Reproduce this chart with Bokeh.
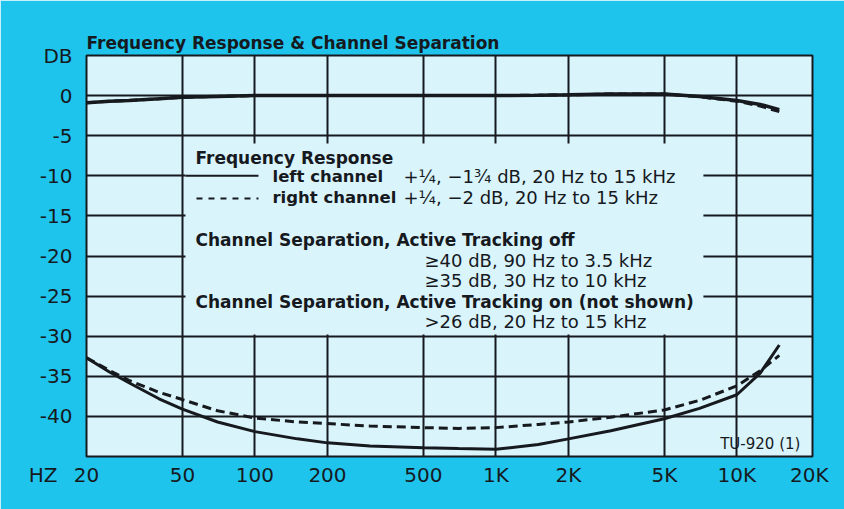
import numpy as np
from bokeh.plotting import figure
from bokeh.models import FixedTicker, BoxAnnotation, Label, Range1d
from bokeh.embed import file_html
from bokeh.resources import INLINE

# ---------------- data ----------------
freq = [20, 25, 30, 40, 50, 70, 100, 150, 200, 300, 500, 700, 1000,
        1500, 2000, 3000, 5000, 7000, 10000, 12500, 15000]
fr_left = [-0.9, -0.7, -0.6, -0.4, -0.2, -0.1, 0.0, 0.0, 0.0, 0.0, 0.0, 0.0, 0.0,
           0.05, 0.1, 0.2, 0.2, -0.1, -0.6, -1.1, -1.75]
fr_right = [-0.9, -0.7, -0.6, -0.4, -0.2, -0.1, 0.0, 0.0, 0.0, 0.0, 0.0, 0.0, 0.0,
            0.05, 0.1, 0.2, 0.2, -0.15, -0.7, -1.3, -2.0]
sep_left = [-32.7, -34.5, -35.8, -37.8, -39.1, -40.7, -41.9, -42.8, -43.3, -43.7, -43.9,
            -44.0, -44.1, -43.5, -42.8, -41.8, -40.3, -39.0, -37.3, -34.6, -31.1]
sep_right = [-32.7, -34.3, -35.5, -37.0, -37.9, -39.3, -40.2, -40.7, -40.9, -41.2, -41.4,
             -41.5, -41.4, -41.0, -40.7, -40.1, -39.2, -38.0, -36.2, -34.3, -32.4]

x_ticks = [20, 50, 100, 200, 500, 1000, 2000, 5000, 10000, 20000]
x_tick_labels = ["20", "50", "100", "200", "500", "1K", "2K", "5K", "10K", "20K"]
x_grid = [50, 100, 200, 500, 1000, 2000, 5000, 10000]
y_ticks = [5, 0, -5, -10, -15, -20, -25, -30, -35, -40]
y_tick_labels = ["DB", "0", "-5", "-10", "-15", "-20", "-25", "-30", "-35", "-40"]
y_grid = [0, -5, -10, -15, -20, -25, -30, -35, -40]

title_text = "Frequency Response & Channel Separation"
notes_bold = ["Frequency Response",
              "Channel Separation, Active Tracking off",
              "Channel Separation, Active Tracking on (not shown)"]
channel_names = ["left channel", "right channel"]
channel_specs = ["+\u00bc, \u22121\u00be dB, 20 Hz to 15 kHz",
                 "+\u00bc, \u22122 dB, 20 Hz to 15 kHz"]
sep_specs = ["\u226540 dB, 90 Hz to 3.5 kHz",
             "\u226535 dB, 30 Hz to 10 kHz",
             ">26 dB, 20 Hz to 15 kHz"]

# ---------------- styling ----------------
INK = "#16191e"
CYAN = "#1fc4ec"
PANEL = "#d9f4fb"
FONT = "DejaVu Sans"

X0, X1 = 20, 20600
Y0, Y1 = -45, 5

p = figure(width=844, height=509, x_axis_type="log",
           x_range=Range1d(X0, X1), y_range=Range1d(Y0, Y1),
           output_backend="svg", toolbar_location=None,
           min_border_left=86, min_border_right=32,
           min_border_top=55, min_border_bottom=53)
p.background_fill_color = PANEL
p.border_fill_color = CYAN
p.outline_line_color = INK
p.outline_line_width = 2

# title
p.title.text = title_text
p.title.text_font = FONT
p.title.text_font_size = "17px"
p.title.text_font_style = "bold"
p.title.text_color = INK
p.title.align = "left"
p.title.standoff = 6

# axes
p.xaxis.ticker = FixedTicker(ticks=x_ticks)
p.xaxis.major_label_overrides = {t: l for t, l in zip(x_ticks, x_tick_labels)}
p.yaxis.ticker = FixedTicker(ticks=y_ticks)
p.yaxis.major_label_overrides = {t: l for t, l in zip(y_ticks, y_tick_labels)}
for ax in (p.xaxis, p.yaxis):
    ax.axis_line_color = None
    ax.major_tick_line_color = None
    ax.minor_tick_line_color = None
    ax.major_tick_out = 0
    ax.major_tick_in = 0
    ax.major_label_text_font = FONT
    ax.major_label_text_font_size = "20px"
    ax.major_label_text_color = INK
p.yaxis.major_label_standoff = 14
p.xaxis.major_label_standoff = 6

# grid
p.xgrid.ticker = FixedTicker(ticks=x_grid)
p.ygrid.ticker = FixedTicker(ticks=y_grid)
for g in (p.xgrid, p.ygrid):
    g.grid_line_color = INK
    g.grid_line_width = 2
    g.grid_line_alpha = 1.0

# pixel -> data helpers for annotation placement (page pixel coords)
def fx(px):
    return 20 * 10 ** ((px - 86) / 241.0)

def fy(py):
    return 5 - (py - 55) / 8.02

# white-out panel behind the notes
p.add_layout(BoxAnnotation(left=fx(185), right=fx(703), top=fy(143), bottom=fy(334),
                           fill_color=PANEL, fill_alpha=1.0, line_color=None,
                           level="underlay"))

# curves
p.line(freq, fr_left, line_color=INK, line_width=3.5)
p.line(freq, fr_right, line_color=INK, line_width=3, line_dash="9 5")
p.line(freq, sep_left, line_color=INK, line_width=3)
p.line(freq, sep_right, line_color=INK, line_width=3, line_dash="9 5")

# legend keys
p.segment(x0=[fx(185)], y0=[-10], x1=[fx(258)], y1=[-10], line_color=INK, line_width=2)
p.segment(x0=[fx(196)], y0=[fy(198)], x1=[fx(258)], y1=[fy(198)], line_color=INK,
          line_width=2, line_dash="6 6")

def lab(text, px, py, size="18px", bold=False, align="left"):
    p.add_layout(Label(x=fx(px), y=fy(py), text=text, text_font=FONT,
                       text_font_size=size, text_font_style="bold" if bold else "normal",
                       text_color=INK, text_baseline="middle", text_align=align))

lab(notes_bold[0], 195, 157, size="17px", bold=True)
lab(channel_names[0], 272, 176, size="16.5px", bold=True)
lab(channel_specs[0], 403, 176)
lab(channel_names[1], 272, 197, size="16.5px", bold=True)
lab(channel_specs[1], 403, 197)
lab(notes_bold[1], 195, 239, size="17px", bold=True)
lab(sep_specs[0], 424, 259.5)
lab(sep_specs[1], 424, 280)
lab(notes_bold[2], 195, 301, size="17px", bold=True)
lab(sep_specs[2], 424, 321)
lab("TU-920 (1)", 800, 443, size="15px", align="right")

# "HZ" unit label, in its own panel left of the y axis (panel-relative screen units)
p.add_layout(Label(x=35.5, y=456 - 474, x_units="screen", y_units="screen",
                   text="HZ", text_font=FONT, text_font_size="20px", text_color=INK,
                   text_baseline="middle", text_align="center"), "left")

open("out.html", "w").write(file_html(p, INLINE))
